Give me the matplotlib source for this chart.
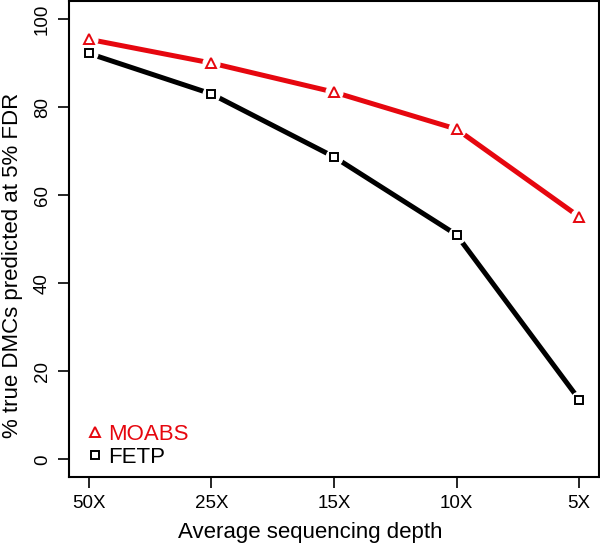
import matplotlib
matplotlib.use('Agg')
import matplotlib.pyplot as plt
from matplotlib.lines import Line2D

plt.rcParams['font.family'] = ['Liberation Sans', 'DejaVu Sans']

# --- data ---
depths = ["50X", "25X", "15X", "10X", "5X"]
moabs = [95.4, 90.0, 83.4, 75.0, 55.1]
fetp = [92.2, 83.0, 68.7, 51.0, 13.6]

red = '#e6070f'
xs = list(range(1, len(depths) + 1))

fig = plt.figure(figsize=(6, 5.43), dpi=100)
ax = fig.add_axes([0.115, 0.1215, 0.883, 0.876])

for vals, col, mk in [(moabs, red, '^'), (fetp, 'black', 's')]:
    ax.plot(xs, vals, color=col, lw=3.6, solid_capstyle='butt', zorder=2)
    # white halo so the line stops short of each point (R type="b")
    ax.plot(xs, vals, ls='none', marker='o', ms=12, mfc='white', mec='white', zorder=3)
    ax.plot(xs, vals, ls='none', marker=mk, ms=6 if mk == 's' else 7,
            mfc='none', mec=col, mew=1.4, zorder=4)

ax.set_xlim(0.84, 5.16)
ax.set_ylim(-4, 104)
ax.set_xticks(xs)
ax.set_xticklabels(depths)
ax.set_yticks([0, 20, 40, 60, 80, 100])
for lab in ax.get_yticklabels():
    lab.set_rotation(90)
    lab.set_va('center')
ax.tick_params(direction='out', length=8, width=1.2, labelsize=13.5, pad=5)
for s in ax.spines.values():
    s.set_linewidth(1.5)
ax.set_xlabel("Average sequencing depth", fontsize=16)
ax.xaxis.set_label_coords(0.455, -0.095)
ax.set_ylabel("% true DMCs predicted at 5% FDR", fontsize=16)
ax.yaxis.set_label_coords(-0.086, 0.446)

handles = [Line2D([], [], ls='none', marker='^', ms=7, mfc='none', mec=red, mew=1.4),
           Line2D([], [], ls='none', marker='s', ms=6, mfc='none', mec='black', mew=1.4)]
leg = ax.legend(handles, ["MOABS", "FETP"], loc='lower left', frameon=False, fontsize=16,
                handlelength=0.8, handletextpad=0.2, labelspacing=0.1,
                borderaxespad=0.0, bbox_to_anchor=(0.015, 0.0))
leg.get_texts()[0].set_color(red)

fig.savefig("out.png", dpi=100)
